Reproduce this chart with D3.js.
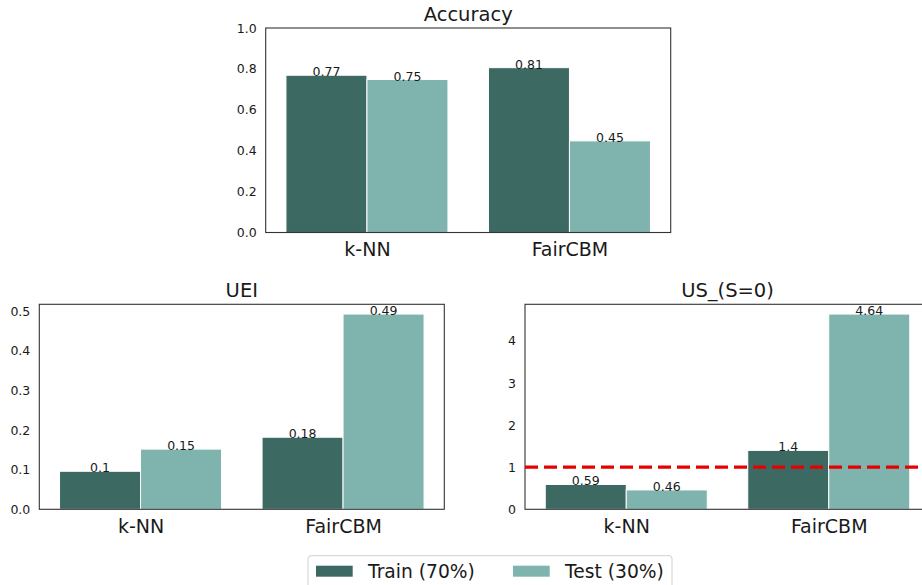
<!DOCTYPE html>
<html>
<head>
<meta charset="utf-8">
<script src="https://cdn.jsdelivr.net/npm/d3@7"></script>
<style>
    body { margin: 0; background: #fff; }
    text { font-family: "DejaVu Sans", sans-serif; fill: #1a1a1a; }
</style>
</head>
<body>
<script>
//chart data
var models = ["k-NN", "FairCBM"];
var series = ["Train (70%)", "Test (30%)"];
var colors = ["#3c6a63", "#7fb3ad"];

var accuracyTrain = [0.769, 0.806],
    accuracyTest = [0.748, 0.448];
var ueiTrain = [0.096, 0.182],
    ueiTest = [0.152, 0.493];
var usTrain = [0.59, 1.40],
    usTest = [0.46, 4.64];

var accuracyTicks = [0.0, 0.2, 0.4, 0.6, 0.8, 1.0],
    ueiTicks = [0.0, 0.1, 0.2, 0.3, 0.4, 0.5],
    usTicks = [0, 1, 2, 3, 4];

var usReference = 1;

window.onload = drawFigure();

function drawFigure() {
    var width = 922,
        height = 585;

    var svg = d3.select("body")
        .append("svg")
        .attr("width", width)
        .attr("height", height);

    //one panel per metric
    drawPanel(svg, {title: "Accuracy", left: 265.7, top: 28, w: 405, h: 204.5,
        train: accuracyTrain, test: accuracyTest, ticks: accuracyTicks, ymax: 1.0, fmt: d3.format(".1f")});
    drawPanel(svg, {title: "UEI", left: 39.3, top: 304.3, w: 405, h: 205,
        train: ueiTrain, test: ueiTest, ticks: ueiTicks, ymax: null, fmt: d3.format(".1f")});
    var us = drawPanel(svg, {title: "US_(S=0)", left: 525, top: 304.3, w: 405, h: 205,
        train: usTrain, test: usTest, ticks: usTicks, ymax: null, fmt: d3.format("d")});

    //red reference line on the US panel
    us.g.append("line")
        .attr("x1", 0)
        .attr("x2", us.w)
        .attr("y1", us.y(usReference))
        .attr("y2", us.y(usReference))
        .attr("stroke", "#e60000")
        .attr("stroke-width", 3.2)
        .attr("stroke-dasharray", "13,6");

    drawLegend(svg);
}

function drawPanel(svg, p) {
    var g = svg.append("g")
        .attr("transform", "translate(" + p.left + "," + p.top + ")");

    var maxVal = d3.max(p.train.concat(p.test));
    var ymax = p.ymax ? p.ymax : maxVal * 1.05;

    var x = d3.scaleLinear().domain([-0.5, 1.5]).range([0, p.w]);
    var y = d3.scaleLinear().domain([0, ymax]).range([p.h, 0]);

    var bars = [];
    models.forEach(function(m, i) {
        bars.push({i: i, s: 0, v: p.train[i]});
        bars.push({i: i, s: 1, v: p.test[i]});
    });

    var barW = 0.4;

    g.selectAll(".bar")
        .data(bars)
        .enter()
        .append("rect")
        .attr("class", "bar")
        .attr("x", function(d) { return x(d.i - barW + d.s * barW); })
        .attr("width", function(d) { return x(barW) - x(0); })
        .attr("y", function(d) { return y(d.v); })
        .attr("height", function(d) { return y(0) - y(d.v); })
        .attr("fill", function(d) { return colors[d.s]; })
        .attr("stroke", "#fff")
        .attr("stroke-width", 1);

    //value labels, rounded like python round(v, 2)
    g.selectAll(".val")
        .data(bars)
        .enter()
        .append("text")
        .attr("class", "val")
        .attr("x", function(d) { return x(d.i - barW / 2 + d.s * barW); })
        .attr("y", function(d) { return y(d.v) + 1; })
        .attr("text-anchor", "middle")
        .style("font-size", "12.5px")
        .text(function(d) { return String(Math.round(d.v * 100) / 100); });

    //axes frame
    g.append("rect")
        .attr("width", p.w)
        .attr("height", p.h)
        .attr("fill", "none")
        .attr("stroke", "#333")
        .attr("stroke-width", 1.1);

    //y ticks
    var yAxis = d3.axisLeft(y)
        .tickValues(p.ticks)
        .tickSize(0)
        .tickPadding(9)
        .tickFormat(p.fmt);
    var ya = g.append("g").call(yAxis);
    ya.select(".domain").remove();
    ya.selectAll("text")
        .style("font-size", "12.5px")
        .style("font-family", "DejaVu Sans, sans-serif")
        .attr("fill", "#1a1a1a");

    //x ticks
    var xAxis = d3.axisBottom(x)
        .tickValues([0, 1])
        .tickSize(0)
        .tickPadding(10.5)
        .tickFormat(function(d) { return models[d]; });
    var xa = g.append("g")
        .attr("transform", "translate(0," + p.h + ")")
        .call(xAxis);
    xa.select(".domain").remove();
    xa.selectAll("text")
        .style("font-size", "19px")
        .style("font-family", "DejaVu Sans, sans-serif")
        .attr("fill", "#1a1a1a");

    g.append("text")
        .attr("x", p.w / 2)
        .attr("y", -7.5)
        .attr("text-anchor", "middle")
        .style("font-size", "19.5px")
        .text(p.title);

    return {g: g, x: x, y: y, w: p.w, h: p.h};
}

function drawLegend(svg) {
    var lg = svg.append("g");

    lg.append("rect")
        .attr("x", 308)
        .attr("y", 555.7)
        .attr("width", 364)
        .attr("height", 50)
        .attr("rx", 3)
        .attr("fill", "#fff")
        .attr("stroke", "#d0d0d0");

    var itemX = [316, 513];

    var items = lg.selectAll(".item")
        .data(series)
        .enter()
        .append("g")
        .attr("class", "item")
        .attr("transform", function(d, i) { return "translate(" + itemX[i] + ",0)"; });

    items.append("rect")
        .attr("y", 565.7)
        .attr("width", 36.7)
        .attr("height", 11)
        .attr("fill", function(d, i) { return colors[i]; });

    items.append("text")
        .attr("x", 52)
        .attr("y", 578)
        .style("font-size", "18.7px")
        .text(function(d) { return d; });
}
</script>
</body>
</html>
